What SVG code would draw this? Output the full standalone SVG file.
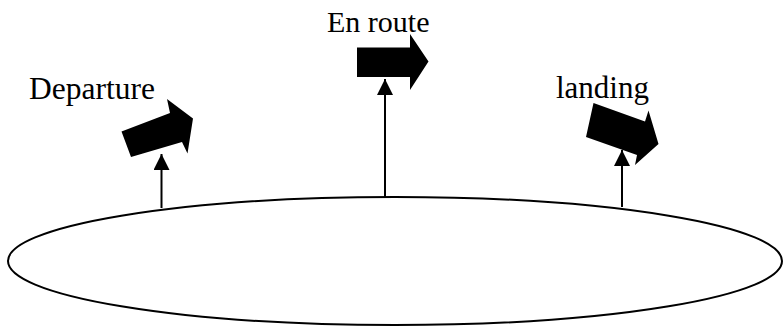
<svg xmlns="http://www.w3.org/2000/svg" width="783" height="327" viewBox="0 0 783 327">
<style>
text{font-family:"Liberation Serif","Times New Roman",serif;font-size:31px;fill:#000}
.line{stroke:#000;stroke-width:2;fill:none}
.block{fill:#000;stroke:none}
</style>
<defs>
<marker id="ah" markerWidth="16" markerHeight="16" viewBox="0 0 16 16" refX="16" refY="8" orient="auto" markerUnits="userSpaceOnUse">
<path d="M0,0 L16,8 L0,16 Z" fill="#000"/>
</marker>
</defs>
<g id="ground">
<ellipse cx="395" cy="261" rx="387" ry="64" fill="#fff" stroke="#000" stroke-width="2"/>
</g>
<g id="connectors">
<line class="line" x1="161.5" y1="208" x2="161.5" y2="154" marker-end="url(#ah)"/>
<line class="line" x1="385" y1="197" x2="385" y2="79" marker-end="url(#ah)"/>
<line class="line" x1="622" y1="207" x2="622" y2="150" marker-end="url(#ah)"/>
</g>
<g id="departure">
<polygon class="block" points="121.5,131.5 170,113 167,99 193,118.5 187.5,153.5 182,142 131,157"/>
<text x="29" y="99" style="font-size:31.5px">Departure</text>
</g>
<g id="enroute">
<polygon class="block" points="357,47.5 410,47.5 410,34 428.5,61.5 410,90 410,77 357,77"/>
<text x="327" y="32" style="font-size:30px">En route</text>
</g>
<g id="landing">
<polygon class="block" points="593.5,103 645,121.5 648.5,110.5 658.5,144 635,165 637,155 586,137"/>
<text x="556" y="98">landing</text>
</g>
</svg>
